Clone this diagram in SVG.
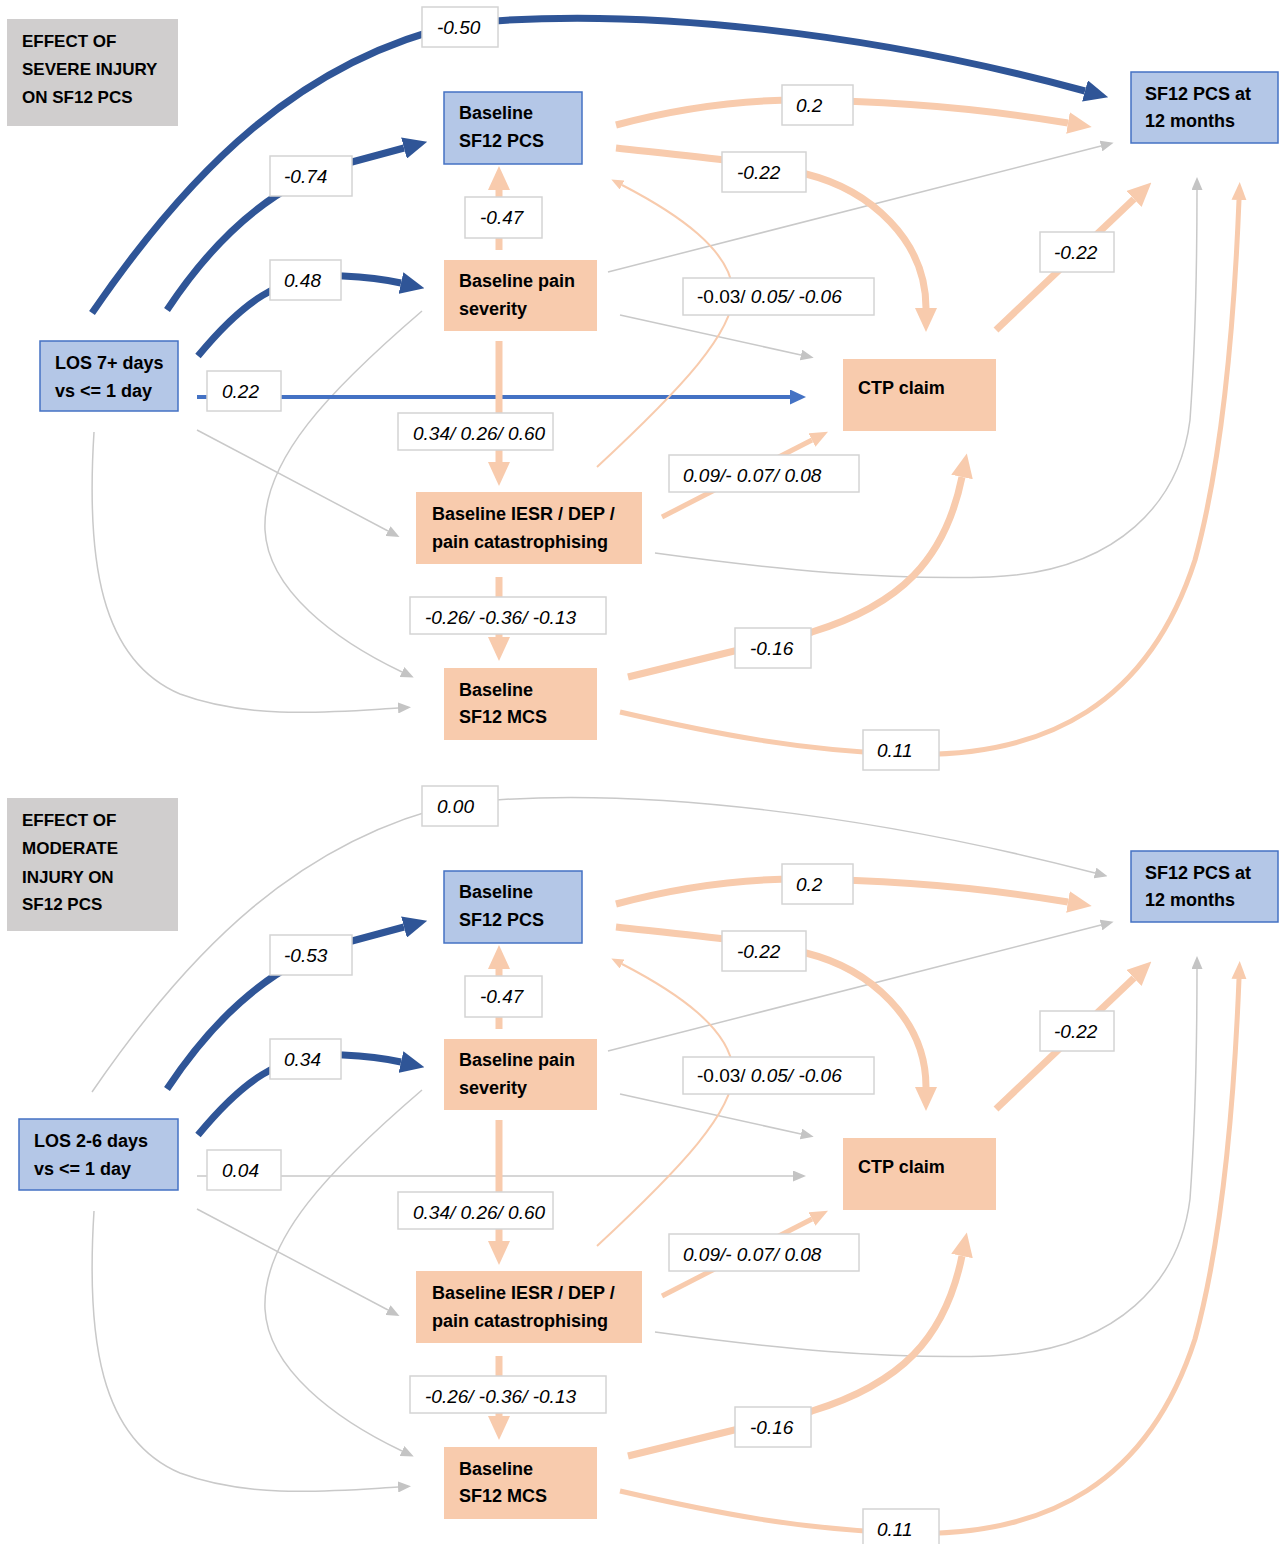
<svg xmlns="http://www.w3.org/2000/svg" width="1284" height="1544" viewBox="0 0 1284 1544">
<defs>
<marker id="mDB" markerUnits="userSpaceOnUse" markerWidth="24" markerHeight="22" refX="0" refY="11" orient="auto"><path d="M0,0 L24,11 L0,22 z" fill="#2F5597"/></marker>
<marker id="mOB" markerUnits="userSpaceOnUse" markerWidth="24" markerHeight="22" refX="0" refY="11" orient="auto"><path d="M0,0 L24,11 L0,22 z" fill="#F8CBAD"/></marker>
<marker id="mOM" markerUnits="userSpaceOnUse" markerWidth="18" markerHeight="15" refX="0" refY="7.5" orient="auto"><path d="M0,0 L18,7.5 L0,15 z" fill="#F8CBAD"/></marker>
<marker id="mOS" markerUnits="userSpaceOnUse" markerWidth="12" markerHeight="10" refX="0" refY="5" orient="auto"><path d="M0,0 L12,5 L0,10 z" fill="#F8CBAD"/></marker>
<marker id="mG" markerUnits="userSpaceOnUse" markerWidth="13" markerHeight="11" refX="0" refY="5.5" orient="auto"><path d="M0,0 L13,5.5 L0,11 z" fill="#C4C4C4"/></marker>
<marker id="mB" markerUnits="userSpaceOnUse" markerWidth="16" markerHeight="15" refX="0" refY="7.5" orient="auto"><path d="M0,0 L16,7.5 L0,15 z" fill="#4472C4"/></marker>
</defs>
<style>
.c{fill:none}
.db{stroke:#2F5597;stroke-width:7}
.ob{stroke:#F8CBAD;stroke-width:7}
.om{stroke:#F8CBAD;stroke-width:5}
.os{stroke:#F8CBAD;stroke-width:2}
.gr{stroke:#C9C9C9;stroke-width:1.5}
.bl{stroke:#4472C4;stroke-width:4}
.lb rect{fill:#FFFFFF;stroke:#D4D4D4;stroke-width:1.5}
.lb text{font-family:"Liberation Sans",Arial,sans-serif;font-style:italic;font-size:19px;fill:#000}
.nb{fill:#B4C7E7;stroke:#4472C4;stroke-width:1.5}
.no{fill:#F8CBAD}
.nt{fill:#D0CECE}
.tx{font-family:"Liberation Sans",Arial,sans-serif;font-weight:bold;font-size:18px;fill:#000}
.tt{font-family:"Liberation Sans",Arial,sans-serif;font-weight:bold;font-size:17px;fill:#000}
.up{font-style:normal}
</style>
<rect x="0" y="0" width="1284" height="1544" fill="#FFFFFF"/>

<!-- ================= PANEL 1: SEVERE ================= -->
<g id="panel-severe">
<g id="connectors-severe">
<path class="c gr" d="M94,432 C86,560 100,660 180,694 C250,720 330,712 398,708" marker-end="url(#mG)"/>
<path class="c gr" d="M422,311 C330,390 262,460 265,530 C268,590 335,640 402,672" marker-end="url(#mG)"/>
<path class="c gr" d="M197,430 L388,531" marker-end="url(#mG)"/>
<path class="c gr" d="M608,272 L1101,146" marker-end="url(#mG)"/>
<path class="c gr" d="M620,315 L801,355" marker-end="url(#mG)"/>
<path class="c gr" d="M655,553 C780,570 880,580 990,577 C1120,572 1180,500 1190,420 C1195,350 1197,260 1197,190" marker-end="url(#mG)"/>
<path class="c bl" d="M197,397 L790,397" marker-end="url(#mB)"/>
<path class="c os" d="M597,467 C680,390 737,330 733,290 C729,250 680,215 622,185" marker-end="url(#mOS)"/>
<path class="c ob" d="M499,250 L499,190" marker-end="url(#mOB)"/>
<path class="c ob" d="M499,341 L499,462" marker-end="url(#mOB)"/>
<path class="c ob" d="M499,577 L499,637" marker-end="url(#mOB)"/>
<path class="c ob" d="M616,125 C680,108 740,100 800,100 C900,101 990,110 1068,123" marker-end="url(#mOB)"/>
<path class="c ob" d="M616,148 C680,155 760,162 806,174 C870,190 926,240 926,308" marker-end="url(#mOB)"/>
<path class="c ob" d="M996,330 L1134,199" marker-end="url(#mOB)"/>
<path class="c om" d="M662,517 L812,440" marker-end="url(#mOM)"/>
<path class="c ob" d="M628,677 C680,664 760,645 812,632 C900,605 945,560 962,477" marker-end="url(#mOB)"/>
<path class="c om" d="M620,712 C720,735 800,750 900,754 C1050,760 1150,700 1195,560 C1225,450 1235,300 1239,200" marker-end="url(#mOM)"/>
<path class="c db" d="M92,313 C190,170 300,60 460,24 C640,5 880,35 1085,91" marker-end="url(#mDB)"/>
<path class="c db" d="M167,310 C220,230 280,180 352,162 L404,148" marker-end="url(#mDB)"/>
<path class="c db" d="M198,356 C240,305 280,272 343,276 C365,277 383,279 401,283" marker-end="url(#mDB)"/>
</g>
<g id="labels-severe" class="lb">
<rect x="422" y="7" width="76" height="40"/><text x="437" y="34">-0.50</text>
<rect x="270" y="156" width="82" height="40"/><text x="284" y="183">-0.74</text>
<rect x="270" y="260" width="71" height="40"/><text x="284" y="287">0.48</text>
<rect x="465" y="197" width="77" height="41"/><text x="480" y="224">-0.47</text>
<rect x="207" y="371" width="74" height="40"/><text x="222" y="398">0.22</text>
<rect x="782" y="85" width="71" height="40"/><text x="796" y="112">0.2</text>
<rect x="722" y="152" width="84" height="40"/><text x="737" y="179">-0.22</text>
<rect x="683" y="278" width="191" height="37"/><text x="697" y="303"><tspan class="up">-0.03/</tspan> 0.05/ -0.06</text>
<rect x="1040" y="232" width="74" height="40"/><text x="1054" y="259">-0.22</text>
<rect x="398" y="413" width="155" height="37"/><text x="413" y="440">0.34/ 0.26/ 0.60</text>
<rect x="669" y="455" width="190" height="37"/><text x="683" y="482">0.09/- 0.07/ 0.08</text>
<rect x="410" y="597" width="196" height="37"/><text x="425" y="624">-0.26/ -0.36/ -0.13</text>
<rect x="735" y="628" width="76" height="40"/><text x="750" y="655">-0.16</text>
<rect x="863" y="730" width="76" height="40"/><text x="877" y="757">0.11</text>
</g>
<g id="title-severe"><rect class="nt" x="7" y="19" width="171" height="107"/>
<text class="tt" x="22" y="47">EFFECT OF</text><text class="tt" x="22" y="75">SEVERE INJURY</text><text class="tt" x="22" y="103">ON SF12 PCS</text></g>
<g id="los7-severe"><rect class="nb" x="40" y="341" width="138" height="70"/>
<text class="tx" x="55" y="369">LOS 7+ days</text><text class="tx" x="55" y="397">vs &lt;= 1 day</text></g>
<g id="bpcs-severe"><rect class="nb" x="444" y="92" width="138" height="72"/>
<text class="tx" x="459" y="119">Baseline</text><text class="tx" x="459" y="147">SF12 PCS</text></g>
<g id="pain-severe"><rect class="no" x="444" y="260" width="153" height="71"/>
<text class="tx" x="459" y="287">Baseline pain</text><text class="tx" x="459" y="315">severity</text></g>
<g id="ctp-severe"><rect class="no" x="843" y="359" width="153" height="72"/>
<text class="tx" x="858" y="394">CTP claim</text></g>
<g id="iesr-severe"><rect class="no" x="416" y="492" width="226" height="72"/>
<text class="tx" x="432" y="520">Baseline IESR / DEP /</text><text class="tx" x="432" y="548">pain catastrophising</text></g>
<g id="mcs-severe"><rect class="no" x="444" y="668" width="153" height="72"/>
<text class="tx" x="459" y="696">Baseline</text><text class="tx" x="459" y="723">SF12 MCS</text></g>
<g id="pcs12-severe"><rect class="nb" x="1131" y="72" width="147" height="71"/>
<text class="tx" x="1145" y="100">SF12 PCS at</text><text class="tx" x="1145" y="127">12 months</text></g>
</g>

<!-- ================= PANEL 2: MODERATE ================= -->
<g id="panel-moderate" transform="translate(0,779)">
<g id="connectors-moderate">
<path class="c gr" d="M94,432 C86,560 100,660 180,694 C250,720 330,712 398,708" marker-end="url(#mG)"/>
<path class="c gr" d="M422,311 C330,390 262,460 265,530 C268,590 335,640 402,672" marker-end="url(#mG)"/>
<path class="c gr" d="M197,430 L388,531" marker-end="url(#mG)"/>
<path class="c gr" d="M608,272 L1101,146" marker-end="url(#mG)"/>
<path class="c gr" d="M620,315 L801,355" marker-end="url(#mG)"/>
<path class="c gr" d="M655,553 C780,570 880,580 990,577 C1120,572 1180,500 1190,420 C1195,350 1197,260 1197,190" marker-end="url(#mG)"/>
<path class="c gr" d="M197,397 L793,397" marker-end="url(#mG)"/>
<path class="c gr" d="M92,313 C190,170 300,60 460,24 C640,5 880,38 1095,94" marker-end="url(#mG)"/>
<path class="c os" d="M597,467 C680,390 737,330 733,290 C729,250 680,215 622,185" marker-end="url(#mOS)"/>
<path class="c ob" d="M499,250 L499,190" marker-end="url(#mOB)"/>
<path class="c ob" d="M499,341 L499,462" marker-end="url(#mOB)"/>
<path class="c ob" d="M499,577 L499,637" marker-end="url(#mOB)"/>
<path class="c ob" d="M616,125 C680,108 740,100 800,100 C900,101 990,110 1068,123" marker-end="url(#mOB)"/>
<path class="c ob" d="M616,148 C680,155 760,162 806,174 C870,190 926,240 926,308" marker-end="url(#mOB)"/>
<path class="c ob" d="M996,330 L1134,199" marker-end="url(#mOB)"/>
<path class="c om" d="M662,517 L812,440" marker-end="url(#mOM)"/>
<path class="c ob" d="M628,677 C680,664 760,645 812,632 C900,605 945,560 962,477" marker-end="url(#mOB)"/>
<path class="c om" d="M620,712 C720,735 800,750 900,754 C1050,760 1150,700 1195,560 C1225,450 1235,300 1239,200" marker-end="url(#mOM)"/>
<path class="c db" d="M167,310 C220,230 280,180 352,162 L404,148" marker-end="url(#mDB)"/>
<path class="c db" d="M198,356 C240,305 280,272 343,276 C365,277 383,279 401,283" marker-end="url(#mDB)"/>
</g>
<g id="labels-moderate" class="lb">
<rect x="422" y="7" width="76" height="40"/><text x="437" y="34">0.00</text>
<rect x="270" y="156" width="82" height="40"/><text x="284" y="183">-0.53</text>
<rect x="270" y="260" width="71" height="40"/><text x="284" y="287">0.34</text>
<rect x="465" y="197" width="77" height="41"/><text x="480" y="224">-0.47</text>
<rect x="207" y="371" width="74" height="40"/><text x="222" y="398">0.04</text>
<rect x="782" y="85" width="71" height="40"/><text x="796" y="112">0.2</text>
<rect x="722" y="152" width="84" height="40"/><text x="737" y="179">-0.22</text>
<rect x="683" y="278" width="191" height="37"/><text x="697" y="303"><tspan class="up">-0.03/</tspan> 0.05/ -0.06</text>
<rect x="1040" y="232" width="74" height="40"/><text x="1054" y="259">-0.22</text>
<rect x="398" y="413" width="155" height="37"/><text x="413" y="440">0.34/ 0.26/ 0.60</text>
<rect x="669" y="455" width="190" height="37"/><text x="683" y="482">0.09/- 0.07/ 0.08</text>
<rect x="410" y="597" width="196" height="37"/><text x="425" y="624">-0.26/ -0.36/ -0.13</text>
<rect x="735" y="628" width="76" height="40"/><text x="750" y="655">-0.16</text>
<rect x="863" y="730" width="76" height="40"/><text x="877" y="757">0.11</text>
</g>
<g id="title-moderate"><rect class="nt" x="7" y="19" width="171" height="133"/>
<text class="tt" x="22" y="47">EFFECT OF</text><text class="tt" x="22" y="75">MODERATE</text><text class="tt" x="22" y="104">INJURY ON</text><text class="tt" x="22" y="131">SF12 PCS</text></g>
<g id="los26-moderate"><rect class="nb" x="19" y="340" width="159" height="71"/>
<text class="tx" x="34" y="368">LOS 2-6 days</text><text class="tx" x="34" y="396">vs &lt;= 1 day</text></g>
<g id="bpcs-moderate"><rect class="nb" x="444" y="92" width="138" height="72"/>
<text class="tx" x="459" y="119">Baseline</text><text class="tx" x="459" y="147">SF12 PCS</text></g>
<g id="pain-moderate"><rect class="no" x="444" y="260" width="153" height="71"/>
<text class="tx" x="459" y="287">Baseline pain</text><text class="tx" x="459" y="315">severity</text></g>
<g id="ctp-moderate"><rect class="no" x="843" y="359" width="153" height="72"/>
<text class="tx" x="858" y="394">CTP claim</text></g>
<g id="iesr-moderate"><rect class="no" x="416" y="492" width="226" height="72"/>
<text class="tx" x="432" y="520">Baseline IESR / DEP /</text><text class="tx" x="432" y="548">pain catastrophising</text></g>
<g id="mcs-moderate"><rect class="no" x="444" y="668" width="153" height="72"/>
<text class="tx" x="459" y="696">Baseline</text><text class="tx" x="459" y="723">SF12 MCS</text></g>
<g id="pcs12-moderate"><rect class="nb" x="1131" y="72" width="147" height="71"/>
<text class="tx" x="1145" y="100">SF12 PCS at</text><text class="tx" x="1145" y="127">12 months</text></g>
</g>
</svg>
